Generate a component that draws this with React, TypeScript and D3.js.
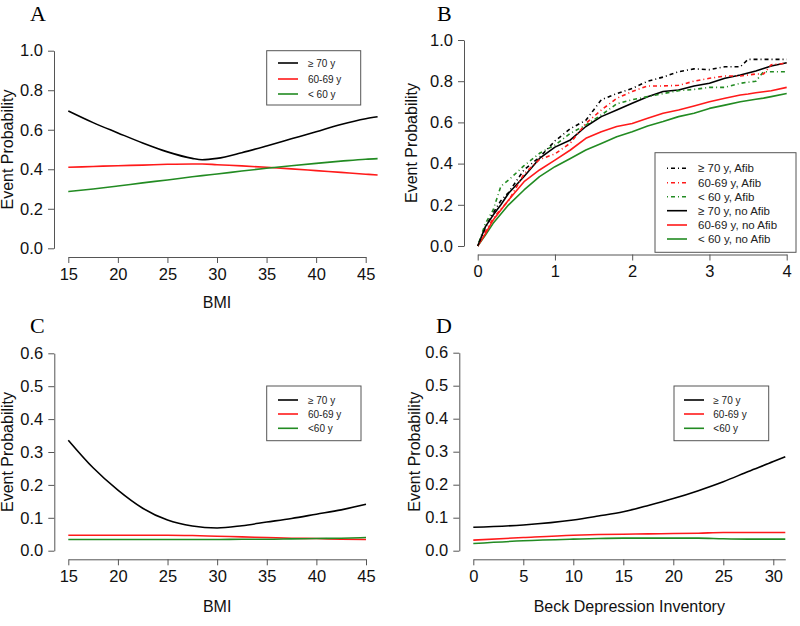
import React, { useEffect, useRef } from "react";
import * as d3 from "d3";

// ---- data ----
const ageLabels = ["\u2265 70 y", "60-69 y", "< 60 y"];
const ageLabelsCD = ["\u2265 70 y", "60-69 y", "<60 y"];
const afibLabels = [
  "\u2265 70 y, Afib",
  "60-69 y, Afib",
  "< 60 y, Afib",
  "\u2265 70 y, no Afib",
  "60-69 y, no Afib",
  "< 60 y, no Afib",
];

// Panel A: BMI vs event probability
const bmiA = [15, 17.5, 20, 22.5, 25, 27.5, 28.5, 30, 32.5, 35, 37.5, 40, 42.5, 45, 46.2];
const aOld = [0.695, 0.636, 0.584, 0.533, 0.488, 0.455, 0.448, 0.455, 0.484, 0.518, 0.554, 0.59, 0.627, 0.656, 0.666];
const aMid = [0.41, 0.414, 0.418, 0.421, 0.425, 0.427, 0.427, 0.423, 0.417, 0.41, 0.402, 0.393, 0.384, 0.375, 0.371];
const aYoung = [0.287, 0.3, 0.315, 0.331, 0.346, 0.362, 0.368, 0.376, 0.391, 0.405, 0.418, 0.43, 0.441, 0.451, 0.454];

// Panel B: cumulative event probability over time
const timeB = [0, 0.1, 0.2, 0.3, 0.4, 0.6, 0.8, 1.0, 1.2, 1.4, 1.6, 1.8, 2.0, 2.2, 2.4, 2.6, 2.8, 3.0, 3.2, 3.4, 3.5, 3.6, 3.7, 3.8, 4.0];
const bOldAfib = [0, 0.09, 0.16, 0.22, 0.26, 0.37, 0.43, 0.51, 0.57, 0.61, 0.71, 0.74, 0.765, 0.8, 0.82, 0.846, 0.86, 0.856, 0.87, 0.87, 0.906, 0.906, 0.906, 0.906, 0.906];
const bMidAfib = [0, 0.07, 0.134, 0.18, 0.22, 0.35, 0.42, 0.447, 0.5, 0.595, 0.66, 0.717, 0.75, 0.777, 0.777, 0.78, 0.8, 0.814, 0.825, 0.825, 0.83, 0.835, 0.835, 0.88, 0.887];
const bYoungAfib = [0, 0.11, 0.175, 0.29, 0.32, 0.39, 0.45, 0.49, 0.547, 0.587, 0.636, 0.69, 0.71, 0.725, 0.74, 0.754, 0.76, 0.77, 0.77, 0.79, 0.795, 0.8, 0.846, 0.846, 0.846];
const bOld = [0, 0.094, 0.15, 0.2, 0.256, 0.337, 0.425, 0.48, 0.515, 0.58, 0.628, 0.66, 0.693, 0.725, 0.75, 0.757, 0.777, 0.79, 0.814, 0.83, 0.84, 0.85, 0.862, 0.874, 0.89];
const bMid = [0, 0.06, 0.126, 0.175, 0.223, 0.312, 0.369, 0.417, 0.466, 0.523, 0.555, 0.58, 0.595, 0.62, 0.644, 0.66, 0.68, 0.7, 0.717, 0.733, 0.738, 0.744, 0.749, 0.754, 0.77];
const bYoung = [0, 0.053, 0.11, 0.155, 0.2, 0.272, 0.337, 0.385, 0.425, 0.466, 0.498, 0.53, 0.555, 0.583, 0.604, 0.628, 0.644, 0.668, 0.684, 0.7, 0.706, 0.712, 0.718, 0.725, 0.74];

// Panel C: BMI vs event probability
const bmiC = [15, 17.5, 20, 22.5, 25, 27.5, 30, 32.5, 35, 37.5, 40, 42.5, 45];
const cOld = [0.336, 0.252, 0.184, 0.129, 0.093, 0.075, 0.069, 0.076, 0.087, 0.098, 0.111, 0.124, 0.141];
const cMid = [0.047, 0.047, 0.047, 0.047, 0.047, 0.046, 0.044, 0.042, 0.04, 0.038, 0.037, 0.035, 0.034];
const cYoung = [0.034, 0.034, 0.034, 0.034, 0.034, 0.034, 0.034, 0.035, 0.035, 0.036, 0.037, 0.038, 0.04];

// Panel D: Beck Depression Inventory vs event probability
const bdiD = [0, 5, 10, 12.5, 15, 17.5, 20, 22.5, 25, 27.5, 30, 31.2];
const dOld = [0.071, 0.078, 0.093, 0.105, 0.118, 0.137, 0.158, 0.182, 0.209, 0.24, 0.27, 0.285];
const dMid = [0.032, 0.04, 0.047, 0.049, 0.05, 0.051, 0.052, 0.053, 0.055, 0.055, 0.055, 0.055];
const dYoung = [0.022, 0.03, 0.035, 0.037, 0.038, 0.038, 0.038, 0.038, 0.036, 0.035, 0.035, 0.035];

const BLACK = "#000000";
const RED = "#ff1a1a";
const GREEN = "#228b22";
const DOTDASH = "1,3,4,3";
const FONT = "'Liberation Sans', Arial, sans-serif";

type Series = { x: number[]; y: number[]; color: string; dash?: string };

type Panel = {
  letter: string;
  letterX: number;
  letterY: number;
  xDomain: [number, number];
  xRange: [number, number];
  yDomain: [number, number];
  yRange: [number, number];
  xTicks: number[];
  yTicks: number[];
  axisX: number;
  axisY: number;
  yLabelX: number;
  xLabel: string;
  xLabelY: number;
  smooth: boolean;
  series: Series[];
  legendOrder: number[];
  legend: { x: number; y: number; w: number; h: number; rows: number[]; segX: number; textX: number; fs: number; labels: string[] };
};

const fmt1 = d3.format(".1f");
const fmt0 = d3.format("d");

const panels: Panel[] = [
  {
    letter: "A", letterX: 30, letterY: 21,
    xDomain: [15, 45], xRange: [68.3, 365.7],
    yDomain: [0, 1], yRange: [248.3, 50.7],
    xTicks: d3.range(15, 46, 5), yTicks: d3.range(0, 1.01, 0.2),
    axisX: 54, axisY: 257,
    yLabelX: 13, xLabel: "BMI", xLabelY: 308, smooth: true,
    series: [
      { x: bmiA, y: aOld, color: BLACK },
      { x: bmiA, y: aMid, color: RED },
      { x: bmiA, y: aYoung, color: GREEN },
    ],
    legendOrder: [0, 1, 2],
    legend: { x: 266.7, y: 50.7, w: 94, h: 54.3, rows: [63, 79, 94], segX: 278, textX: 308, fs: 10, labels: ageLabels },
  },
  {
    letter: "B", letterX: 437, letterY: 21,
    xDomain: [0, 4], xRange: [477.7, 786.7],
    yDomain: [0, 1], yRange: [246, 40],
    xTicks: d3.range(0, 5, 1), yTicks: d3.range(0, 1.01, 0.2),
    axisX: 464, axisY: 254.5,
    yLabelX: 417, xLabel: "", xLabelY: 308, smooth: false,
    series: [
      { x: timeB, y: bYoung, color: GREEN },
      { x: timeB, y: bMid, color: RED },
      { x: timeB, y: bOld, color: BLACK },
      { x: timeB, y: bYoungAfib, color: GREEN, dash: DOTDASH },
      { x: timeB, y: bMidAfib, color: RED, dash: DOTDASH },
      { x: timeB, y: bOldAfib, color: BLACK, dash: DOTDASH },
    ],
    legendOrder: [5, 4, 3, 2, 1, 0],
    legend: { x: 655, y: 152.7, w: 141, h: 99.6, rows: [168.3, 182.7, 196.7, 210.7, 225, 239], segX: 667, textX: 698, fs: 11.5, labels: afibLabels },
  },
  {
    letter: "C", letterX: 30, letterY: 333,
    xDomain: [15, 45], xRange: [68.3, 366],
    yDomain: [0, 0.6], yRange: [550.7, 353.3],
    xTicks: d3.range(15, 46, 5), yTicks: d3.range(0, 0.61, 0.1),
    axisX: 54.3, axisY: 559.3,
    yLabelX: 13, xLabel: "BMI", xLabelY: 611.5, smooth: true,
    series: [
      { x: bmiC, y: cOld, color: BLACK },
      { x: bmiC, y: cMid, color: RED },
      { x: bmiC, y: cYoung, color: GREEN },
    ],
    legendOrder: [0, 1, 2],
    legend: { x: 266.7, y: 386, w: 94.3, h: 54.7, rows: [400, 414, 428.3], segX: 278, textX: 308, fs: 10, labels: ageLabelsCD },
  },
  {
    letter: "D", letterX: 436, letterY: 333,
    xDomain: [0, 31.2], xRange: [473.3, 785.3],
    yDomain: [0, 0.6], yRange: [550.7, 352.7],
    xTicks: d3.range(0, 31, 5), yTicks: d3.range(0, 0.61, 0.1),
    axisX: 459.3, axisY: 559.3,
    yLabelX: 420, xLabel: "Beck Depression Inventory", xLabelY: 611.5, smooth: true,
    series: [
      { x: bdiD, y: dOld, color: BLACK },
      { x: bdiD, y: dMid, color: RED },
      { x: bdiD, y: dYoung, color: GREEN },
    ],
    legendOrder: [0, 1, 2],
    legend: { x: 674, y: 386, w: 94.7, h: 54.7, rows: [400, 414, 428.3], segX: 684, textX: 713.3, fs: 10, labels: ageLabelsCD },
  },
];

const App = () => {
  const ref = useRef<SVGSVGElement | null>(null);

  useEffect(() => {
    const svg = d3.select(ref.current);
    svg.selectAll("*").remove();

    panels.forEach((p) => {
      const g = svg.append("g");
      const x = d3.scaleLinear().domain(p.xDomain).range(p.xRange);
      const y = d3.scaleLinear().domain(p.yDomain).range(p.yRange);

      // panel letter
      g.append("text")
        .attr("x", p.letterX)
        .attr("y", p.letterY)
        .style("font-family", "'Liberation Serif', 'Times New Roman', serif")
        .style("font-size", "22px")
        .text(p.letter);

      // y axis
      const yAxis = g
        .append("g")
        .attr("transform", "translate(" + p.axisX + ",0)")
        .call(d3.axisLeft(y).tickValues(p.yTicks).tickFormat((d) => fmt1(+d)).tickSize(6).tickSizeOuter(0).tickPadding(5));
      yAxis.selectAll("path, line").attr("stroke", "#555");
      yAxis.selectAll("text").style("font-family", FONT).style("font-size", "16.5px").attr("fill", "#111");

      // x axis
      const xAxis = g
        .append("g")
        .attr("transform", "translate(0," + p.axisY + ")")
        .call(d3.axisBottom(x).tickValues(p.xTicks).tickFormat((d) => fmt0(+d)).tickSize(6).tickSizeOuter(0).tickPadding(5));
      xAxis.selectAll("path, line").attr("stroke", "#555");
      xAxis.selectAll("text").style("font-family", FONT).style("font-size", "16.5px").attr("fill", "#111");

      // axis titles
      g.append("text")
        .attr("transform", "rotate(-90)")
        .attr("x", -(p.yRange[0] + p.yRange[1]) / 2)
        .attr("y", p.yLabelX)
        .attr("text-anchor", "middle")
        .style("font-family", FONT)
        .style("font-size", "16px")
        .attr("fill", "#111")
        .text("Event Probability");

      if (p.xLabel) {
        g.append("text")
          .attr("x", (p.xRange[0] + p.xRange[1]) / 2)
          .attr("y", p.xLabelY)
          .attr("text-anchor", "middle")
          .style("font-family", FONT)
          .style("font-size", "16px")
          .attr("fill", "#111")
          .text(p.xLabel);
      }

      // curves
      const line = d3
        .line<[number, number]>()
        .x((d) => x(d[0]))
        .y((d) => y(d[1]))
        .curve(p.smooth ? d3.curveMonotoneX : d3.curveLinear);

      p.series.forEach((s) => {
        const pts: [number, number][] = s.x.map((v, i) => [v, s.y[i]]);
        g.append("path")
          .datum(pts)
          .attr("d", line)
          .attr("fill", "none")
          .attr("stroke", s.color)
          .attr("stroke-width", 1.6)
          .attr("stroke-linejoin", "round")
          .attr("stroke-dasharray", s.dash || null);
      });

      // legend
      const L = p.legend;
      g.append("rect")
        .attr("x", L.x)
        .attr("y", L.y)
        .attr("width", L.w)
        .attr("height", L.h)
        .attr("fill", "white")
        .attr("stroke", "#555")
        .attr("stroke-width", 1);

      L.rows.forEach((ry, i) => {
        const s = p.series[p.legendOrder[i]];
        g.append("line")
          .attr("x1", L.segX)
          .attr("x2", L.segX + 20)
          .attr("y1", ry)
          .attr("y2", ry)
          .attr("stroke", s.color)
          .attr("stroke-width", 1.6)
          .attr("stroke-dasharray", s.dash || null);
        g.append("text")
          .attr("x", L.textX)
          .attr("y", ry)
          .attr("dy", "0.35em")
          .style("font-family", FONT)
          .style("font-size", L.fs + "px")
          .attr("fill", "#222")
          .text(L.labels[i]);
      });
    });
  }, []);

  return (
    <svg
      ref={ref}
      width={800}
      height={626}
      style={{ position: "absolute", left: 0, top: 0, background: "white" }}
    />
  );
};

export default App;
